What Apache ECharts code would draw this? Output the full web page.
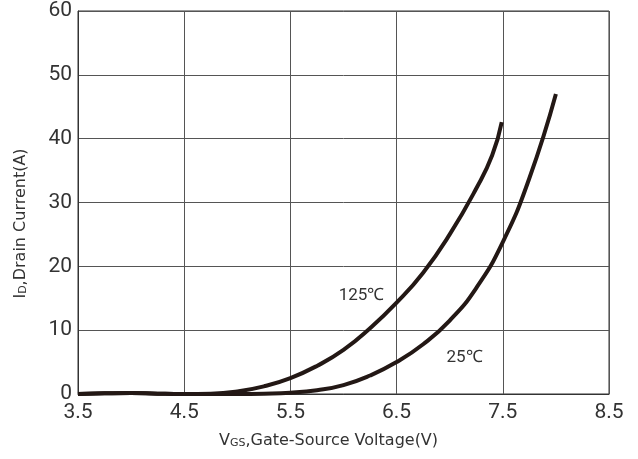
<!DOCTYPE html>
<html><head><meta charset="utf-8">
<script src="https://cdn.jsdelivr.net/npm/echarts@6/dist/echarts.min.js"></script>
<style>html,body{margin:0;padding:0;background:#fff}#c{width:638px;height:459px}</style>
</head><body><div id="c"></div>
<script>
var xTicks = [3.5, 4.5, 5.5, 6.5, 7.5, 8.5];
var yTicks = [0, 10, 20, 30, 40, 50, 60];
var curve125 = [[3.5,0],[3.75,0.1],[4.0,0.15],[4.25,0.05],[4.5,0],[4.75,0.05],[5.0,0.4],[5.25,1.2],[5.5,2.5],[5.75,4.4],[6.0,6.9],[6.25,10.3],[6.5,14.3],[6.75,19.0],[7.0,25.0],[7.25,32.2],[7.4,37.4],[7.49,42.6]];
var curve25 = [[3.5,0],[3.75,0.1],[4.0,0.15],[4.25,0.05],[4.5,0],[4.75,0],[5.0,0],[5.25,0.05],[5.5,0.2],[5.75,0.6],[6.0,1.4],[6.25,2.9],[6.5,5.0],[6.75,7.8],[7.0,11.5],[7.25,16.6],[7.5,23.8],[7.75,33.8],[8.0,47.0]];
var labels = [{name:'125℃', coord:[6.17,15.4]},{name:'25℃', coord:[7.14,5.7]}];

var chart = echarts.init(document.getElementById('c'), null, {renderer:'canvas'});
var font = 'Roboto, "Liberation Sans", sans-serif';
var nameFont = '"DejaVu Sans", sans-serif';
var lineStyle = {color:'#231815', width:4};
var nameRich = {a:{fontSize:16, color:'#333', fontFamily:nameFont}, s:{fontSize:11, color:'#333', fontFamily:nameFont, verticalAlign:'bottom', padding:[5,0,0,0]}};
chart.setOption({
  animation:false,
  grid:{left:78, right:29, top:11, bottom:65, show:true, borderColor:'#333', borderWidth:1},
  xAxis:{type:'value', min:xTicks[0], max:xTicks[xTicks.length-1], interval:1,
    axisLine:{show:true, lineStyle:{color:'#333'}}, axisTick:{show:false},
    splitLine:{show:true, lineStyle:{color:'#555', width:1}},
    axisLabel:{color:'#333', fontSize:21, fontFamily:font, margin:8, formatter:function(v){return v.toFixed(1);}},
    name:'{a|V}{s|GS}{a|,Gate-Source Voltage(V)}', nameLocation:'middle', nameGap:39,
    nameTextStyle:{rich:nameRich, padding:[0,30,0,0]}
  },
  yAxis:{type:'value', min:yTicks[0], max:yTicks[yTicks.length-1], interval:10,
    axisLine:{show:true, lineStyle:{color:'#333'}}, axisTick:{show:false},
    splitLine:{show:true, lineStyle:{color:'#555', width:1}},
    axisLabel:{color:'#333', fontSize:21, fontFamily:font, margin:6},
    name:'{a|I}{s|D}{a|,Drain Current(A)}', nameLocation:'middle', nameGap:49, nameRotate:90,
    nameTextStyle:{rich:nameRich, padding:[0,42,0,0]}
  },
  series:[
    {type:'line', data:curve125, smooth:0.5, symbol:'none', lineStyle:lineStyle,
     markPoint:{symbol:'circle', symbolSize:0, label:{show:true, position:'inside', formatter:'{b}', color:'#333', fontSize:17, fontFamily:font},
       data:[labels[0]]}},
    {type:'line', data:curve25, smooth:0.5, symbol:'none', lineStyle:lineStyle,
     markPoint:{symbol:'circle', symbolSize:0, label:{show:true, position:'inside', formatter:'{b}', color:'#333', fontSize:17, fontFamily:font},
       data:[labels[1]]}}
  ]
});
</script></body></html>
